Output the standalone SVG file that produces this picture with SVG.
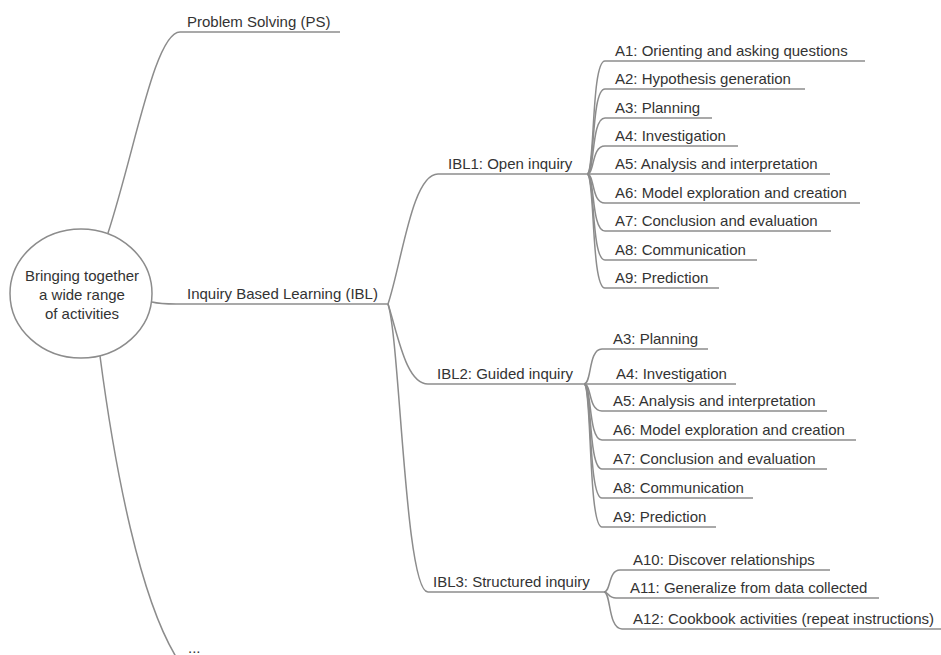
<svg xmlns="http://www.w3.org/2000/svg" width="941" height="655" viewBox="0 0 941 655">
<style>
  .t { font-family: "Liberation Sans", Arial, sans-serif; font-size: 15px; fill: #333333; }
  .c { font-family: "Liberation Sans", Arial, sans-serif; font-size: 15px; fill: #333333; text-anchor: middle; }
  .l { fill: none; stroke: #8c8c8c; stroke-width: 1.5; }
</style>
<rect width="941" height="655" fill="#ffffff"/>
<g id="connectors" class="l">
  <path d="M108,233 C135,150 155,32 180,32"/>
  <path d="M152,302 C160,304 166,304 176,304"/>
  <path d="M100,356 C115,470 140,600 178,660"/>
  <path d="M388,304 C402,262 412,174 438,174"/>
  <path d="M388,304 C398,335 406,384 428,384"/>
  <path d="M388,304 C400,340 405,592 428,592"/>
  <path d="M587,174 C595,174 591,61 605,61"/>
  <path d="M587,174 C595,174 591,89 605,89"/>
  <path d="M587,174 C595,174 591,118 605,118"/>
  <path d="M587,174 C595,174 591,146 605,146"/>
  <path d="M587,174 L605,174"/>
  <path d="M587,174 C595,174 591,203 605,203"/>
  <path d="M587,174 C595,174 591,231 605,231"/>
  <path d="M587,174 C595,174 591,260 605,260"/>
  <path d="M587,174 C595,174 591,288 605,288"/>
  <path d="M584,384 C592,384 588,349 602,349"/>
  <path d="M584,384 L602,384"/>
  <path d="M584,384 C592,384 588,411 602,411"/>
  <path d="M584,384 C592,384 588,440 602,440"/>
  <path d="M584,384 C592,384 588,469 602,469"/>
  <path d="M584,384 C592,384 588,498 602,498"/>
  <path d="M584,384 C592,384 588,527 602,527"/>
  <path d="M604,592 C611,592 608,570 620,570"/>
  <path d="M604,592 C609,592 608,598 616,598"/>
  <path d="M604,592 C611,592 608,629 622,629"/>
</g>
<g id="root">
  <ellipse cx="81" cy="293.5" rx="71" ry="64.5" fill="#ffffff" stroke="#8c8c8c" stroke-width="1.5"/>
  <text class="c" x="82" y="281">Bringing together</text>
  <text class="c" x="82" y="300">a wide range</text>
  <text class="c" x="82" y="319">of activities</text>
</g>
<g id="ps"><line class="l" x1="180" y1="32" x2="340" y2="32"/><text class="t" x="187" y="27">Problem Solving (PS)</text></g>
<g id="ibl"><line class="l" x1="176" y1="304" x2="388" y2="304"/><text class="t" x="187" y="299">Inquiry Based Learning (IBL)</text></g>
<g id="more"><text class="t" x="188" y="653">...</text></g>
<g id="ibl1"><line class="l" x1="438" y1="174" x2="587" y2="174"/><text class="t" x="448" y="169">IBL1: Open inquiry</text></g>
<g id="ibl2"><line class="l" x1="428" y1="384" x2="584" y2="384"/><text class="t" x="437" y="379">IBL2: Guided inquiry</text></g>
<g id="ibl3"><line class="l" x1="428" y1="592" x2="604" y2="592"/><text class="t" x="433" y="587">IBL3: Structured inquiry</text></g>
<g id="ibl1-a1"><line class="l" x1="605" y1="61" x2="865" y2="61"/><text class="t" x="615" y="56">A1: Orienting and asking questions</text></g>
<g id="ibl1-a2"><line class="l" x1="605" y1="89" x2="805" y2="89"/><text class="t" x="615" y="84">A2: Hypothesis generation</text></g>
<g id="ibl1-a3"><line class="l" x1="605" y1="118" x2="712" y2="118"/><text class="t" x="615" y="113">A3: Planning</text></g>
<g id="ibl1-a4"><line class="l" x1="605" y1="146" x2="738" y2="146"/><text class="t" x="615" y="141">A4: Investigation</text></g>
<g id="ibl1-a5"><line class="l" x1="605" y1="174" x2="830" y2="174"/><text class="t" x="615" y="169">A5: Analysis and interpretation</text></g>
<g id="ibl1-a6"><line class="l" x1="605" y1="203" x2="860" y2="203"/><text class="t" x="615" y="198">A6: Model exploration and creation</text></g>
<g id="ibl1-a7"><line class="l" x1="605" y1="231" x2="831" y2="231"/><text class="t" x="615" y="226">A7: Conclusion and evaluation</text></g>
<g id="ibl1-a8"><line class="l" x1="605" y1="260" x2="757" y2="260"/><text class="t" x="615" y="255">A8: Communication</text></g>
<g id="ibl1-a9"><line class="l" x1="605" y1="288" x2="719" y2="288"/><text class="t" x="615" y="283">A9: Prediction</text></g>
<g id="ibl2-a3"><line class="l" x1="602" y1="349" x2="708" y2="349"/><text class="t" x="613" y="344">A3: Planning</text></g>
<g id="ibl2-a4"><line class="l" x1="602" y1="384" x2="736" y2="384"/><text class="t" x="616" y="379">A4: Investigation</text></g>
<g id="ibl2-a5"><line class="l" x1="602" y1="411" x2="827" y2="411"/><text class="t" x="613" y="406">A5: Analysis and interpretation</text></g>
<g id="ibl2-a6"><line class="l" x1="602" y1="440" x2="856" y2="440"/><text class="t" x="613" y="435">A6: Model exploration and creation</text></g>
<g id="ibl2-a7"><line class="l" x1="602" y1="469" x2="827" y2="469"/><text class="t" x="613" y="464">A7: Conclusion and evaluation</text></g>
<g id="ibl2-a8"><line class="l" x1="602" y1="498" x2="753" y2="498"/><text class="t" x="613" y="493">A8: Communication</text></g>
<g id="ibl2-a9"><line class="l" x1="602" y1="527" x2="716" y2="527"/><text class="t" x="613" y="522">A9: Prediction</text></g>
<g id="ibl3-a10"><line class="l" x1="620" y1="570" x2="830" y2="570"/><text class="t" x="633" y="565">A10: Discover relationships</text></g>
<g id="ibl3-a11"><line class="l" x1="616" y1="598" x2="879" y2="598"/><text class="t" x="630" y="593">A11: Generalize from data collected</text></g>
<g id="ibl3-a12"><line class="l" x1="622" y1="629" x2="945" y2="629"/><text class="t" x="633" y="624">A12: Cookbook activities (repeat instructions)</text></g>
</svg>
